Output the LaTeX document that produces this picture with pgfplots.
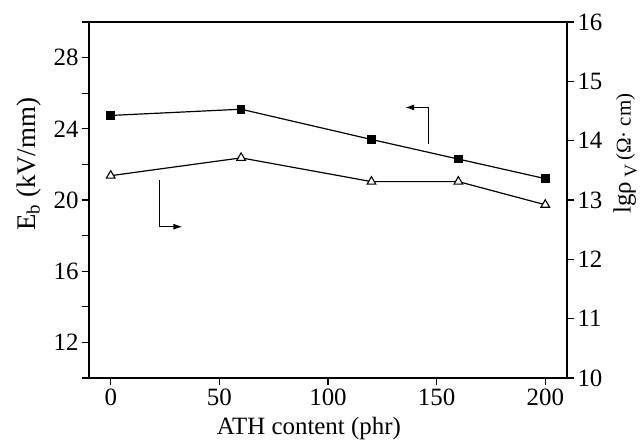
\documentclass[border=0pt]{standalone}
\usepackage{fontspec}
\setmainfont{Liberation Serif}
\usepackage{pgfplots}
\pgfplotsset{compat=1.18}
\usetikzlibrary{arrows.meta,calc}

\begin{document}
\begin{tikzpicture}
\pgfplotsset{
  every axis/.append style={
    scale only axis, width=478bp, height=356bp,
    xmin=-10, xmax=210,
    tick align=outside,
    major tick length=7bp, minor tick length=7bp,
    tick style={line width=1.3pt, black},
    tick label style={font=\fontsize{25}{27}\selectfont},
    label style={font=\fontsize{25}{27}\selectfont},
    /pgf/number format/assume math mode=true,
  },
}
\begin{axis}[
  axis line style={line width=1.6pt},
  ymin=10, ymax=30,
  xtick={0,50,...,200}, xtick pos=bottom,
  ytick={12,16,...,28}, minor ytick={10,14,...,30}, ytick pos=left,
  xlabel={ATH content (phr)},
  ylabel={E\textsubscript{b} (kV/mm)},
  xlabel style={at={(ticklabel cs:0.46)}, yshift=-5bp},
  ylabel style={at={(ticklabel cs:0.6)}, yshift=6bp, font=\fontsize{27}{29}\selectfont},
]
\coordinate (sw) at (rel axis cs:0,0);
\coordinate (ne) at (rel axis cs:1,1);
\addplot[black, line width=1.2bp, mark=square*, mark size=3.8bp]
  coordinates {(0,24.75)(60,25.1)(120,23.4)(160,22.3)(200,21.2)};
\draw[line width=1.1bp, -{Latex[length=9bp,width=6bp]}]
  (axis cs:146.4,23.15) -- (axis cs:146.4,25.2) -- (axis cs:135.5,25.2);
\draw[line width=1.1bp, -{Latex[length=9bp,width=6bp]}]
  (axis cs:22.6,21.1) -- (axis cs:22.6,18.5) -- (axis cs:33,18.5);
\end{axis}
\begin{axis}[
  ymin=10, ymax=16, ytick={10,...,16},
  axis x line=none, axis y line*=right,
  y axis line style={-, line width=1.6pt},
  ylabel={lgρ\,\raisebox{-6bp}{\fontsize{18}{18}\selectfont V}\,{\fontsize{21}{21}\selectfont(Ω·\ cm)}},
  ylabel style={at={(ticklabel cs:0.63)}, yshift=-4bp},
]
\addplot[black, line width=1.2bp, mark=triangle*, mark size=5bp,
  mark options={fill=white, line width=1.1bp}]
  coordinates {(0,13.41)(60,13.71)(120,13.31)(160,13.31)(200,12.92)};
\end{axis}
\pgfresetboundingbox
\path[use as bounding box] ($(sw)+(-89bp,-66bp)$) rectangle ($(ne)+(77bp,22bp)$);
\end{tikzpicture}
\end{document}
